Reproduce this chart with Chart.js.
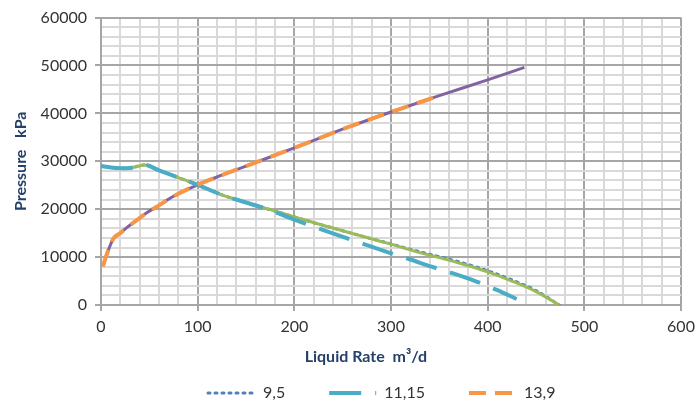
<!DOCTYPE html>
<html>
<head>
<meta charset="utf-8">
<script src="https://cdn.jsdelivr.net/npm/chart.js@4.4.1/dist/chart.umd.min.js"></script>
<style>
  html, body { margin: 0; padding: 0; background: #ffffff; }
  #wrap { width: 697px; height: 406px; }
</style>
</head>
<body>
<div id="wrap"><canvas id="c" width="697" height="406"></canvas></div>
<script>
// ---- Data ----
// falling curve (green solid, not in legend)
const fallX      = [0, 10, 20, 30, 45, 60, 80, 100, 125, 150, 175, 200, 225, 250, 275, 300, 325, 350, 375, 400, 425, 450, 474];
const greenY     = [29000, 28700, 28550, 28600, 29250, 28100, 26600, 25100, 23000, 21400, 19900, 18400, 16900, 15500, 14100, 12700, 11200, 9900, 8500, 6900, 5000, 2800, 0];
// series "9,5" (dotted, mostly hidden under the green line)
const dottedY    = [29000, 28700, 28550, 28600, 29250, 28100, 26600, 25100, 23000, 21400, 19900, 18400, 16900, 15500, 14100, 12750, 11350, 10100, 8750, 7150, 5250, 3000, 0];
// series "11,15" (teal long dash)
const tealX      = [0, 10, 20, 30, 45, 60, 80, 100, 125, 150, 175, 200, 225, 252, 275, 297, 320, 342, 365, 387, 410, 430];
const tealY      = [29000, 28700, 28550, 28600, 29250, 28100, 26600, 25100, 23000, 21400, 19800, 17800, 16000, 14100, 12500, 11000, 9500, 8000, 6550, 5000, 3100, 1250];
// rising curve (purple solid, not in legend)
const riseX      = [2, 6, 13, 20, 27, 35, 47, 60, 75, 100, 125, 150, 175, 200, 250, 300, 350, 400, 438];
const purpleY    = [8100, 10600, 13900, 15000, 16200, 17400, 19200, 20800, 22700, 25100, 27100, 29000, 30900, 32800, 36700, 40300, 43700, 47000, 49600];
// series "13,9" (orange dash, ends earlier)
const orangeX    = [2, 6, 13, 20, 27, 35, 47, 60, 75, 100, 125, 150, 175, 200, 250, 300, 352];
const orangeY    = [8100, 10600, 13900, 15000, 16200, 17400, 19200, 20800, 22700, 25100, 27100, 29000, 30900, 32800, 36700, 40300, 43800];

const seriesNames = ['9,5', '11,15', '13,9'];
const xTicksMajor = [0, 100, 200, 300, 400, 500, 600];
const yTicksMajor = [0, 10000, 20000, 30000, 40000, 50000, 60000];
const xTitle = 'Liquid Rate  m³/d';
const yTitle = 'Pressure   kPa';

// ---- styling ----
const MAJOR = '#a6a6a6';
const MINOR = '#d9d9d9';
const TITLE_COLOR = '#25406a';
const TEXT_COLOR = '#333333';
Chart.defaults.font.family = 'Lato';

function pts(xs, ys) { return xs.map((x, i) => ({ x: x, y: ys[i] })); }

const datasets = [
  { label: seriesNames[2], data: pts(orangeX, orangeY), borderColor: '#f79646', borderWidth: 4, borderDash: [17, 9], borderCapStyle: 'butt' },
  { label: seriesNames[1], data: pts(tealX, tealY), borderColor: '#4bacc6', borderWidth: 4, borderDash: [32, 14], borderCapStyle: 'butt' },
  { label: 'rising', data: pts(riseX, purpleY), borderColor: '#8064a2', borderWidth: 3 },
  { label: 'falling', data: pts(fallX, greenY), borderColor: '#9bbb59', borderWidth: 3 },
  { label: seriesNames[0], data: pts(fallX, dottedY), borderColor: '#4f81bd', borderWidth: 3, borderDash: [2, 5], borderCapStyle: 'round' }
];
datasets.forEach(d => { d.pointRadius = 0; d.fill = false; d.cubicInterpolationMode = 'monotone'; });
const legendOrder = [4, 1, 0];

const placement = {
  id: 'placement',
  afterLayout(chart) {
    const lg = chart.legend;
    const p = lg.options.labels.padding;
    lg.left = 208 - p;
    lg.top = 393 - 8 - p;
  },
  afterDraw(chart) {
    const ctx = chart.ctx;
    const xs = chart.scales.x;
    ctx.save();
    ctx.font = 'bold 16px Lato';
    ctx.fillStyle = TITLE_COLOR;
    ctx.textAlign = 'center';
    ctx.textBaseline = 'middle';
    ctx.fillText(xTitle, xs.getPixelForValue(274), chart.chartArea.bottom + 52);
    ctx.restore();
  }
};

new Chart(document.getElementById('c'), {
  type: 'line',
  data: { datasets: datasets },
  options: {
    responsive: false,
    animation: false,
    devicePixelRatio: 1,
    layout: { padding: { top: 16, right: 16, left: 0, bottom: 0 } },
    plugins: {
      tooltip: { enabled: false },
      legend: {
        position: 'bottom',
        align: 'start',
        maxHeight: 40,
        labels: {
          usePointStyle: true,
          pointStyle: 'line',
          pointStyleWidth: 47,
          boxWidth: 47,
          padding: 44,
          color: TEXT_COLOR,
          font: { size: 16 },
          generateLabels(chart) {
            return legendOrder.map(i => {
              const ds = chart.data.datasets[i];
              return {
                text: ds.label, datasetIndex: i, hidden: false,
                strokeStyle: ds.borderColor, fillStyle: ds.borderColor,
                lineWidth: ds.borderWidth, lineDash: ds.borderDash || [],
                lineCap: ds.borderCapStyle || 'butt', pointStyle: 'line', fontColor: TEXT_COLOR
              };
            });
          }
        }
      }
    },
    scales: {
      x: {
        type: 'linear', min: 0, max: 600,
        afterFit(s) { s.height = 61; s.paddingRight = 0; s.paddingLeft = 0; },
        ticks: {
          stepSize: 20, autoSkip: false, maxRotation: 0, padding: 6,
          color: TEXT_COLOR, font: { size: 16 },
          callback: v => xTicksMajor.includes(v) ? String(v) : ''
        },
        grid: {
          lineWidth: 2, tickLength: 6,
          color: c => (c.tick && xTicksMajor.includes(c.tick.value)) ? MAJOR : MINOR,
          tickColor: c => (c.tick && xTicksMajor.includes(c.tick.value)) ? MAJOR : 'rgba(0,0,0,0)'
        },
        border: { color: MAJOR, width: 2 }
      },
      y: {
        type: 'linear', min: 0, max: 60000,
        afterFit(s) { s.width = 101; },
        ticks: {
          stepSize: 2000, autoSkip: false, padding: 8,
          color: TEXT_COLOR, font: { size: 16 },
          callback: v => yTicksMajor.includes(v) ? String(v) : ''
        },
        grid: {
          lineWidth: 2, tickLength: 6,
          color: c => (c.tick && yTicksMajor.includes(c.tick.value)) ? MAJOR : MINOR,
          tickColor: c => (c.tick && yTicksMajor.includes(c.tick.value)) ? MAJOR : 'rgba(0,0,0,0)'
        },
        border: { color: MAJOR, width: 2 },
        title: {
          display: true, text: yTitle, color: TITLE_COLOR,
          font: { size: 16, weight: 'bold' }, padding: { top: 11, bottom: 0 }
        }
      }
    }
  },
  plugins: [placement]
});
</script>
</body>
</html>
